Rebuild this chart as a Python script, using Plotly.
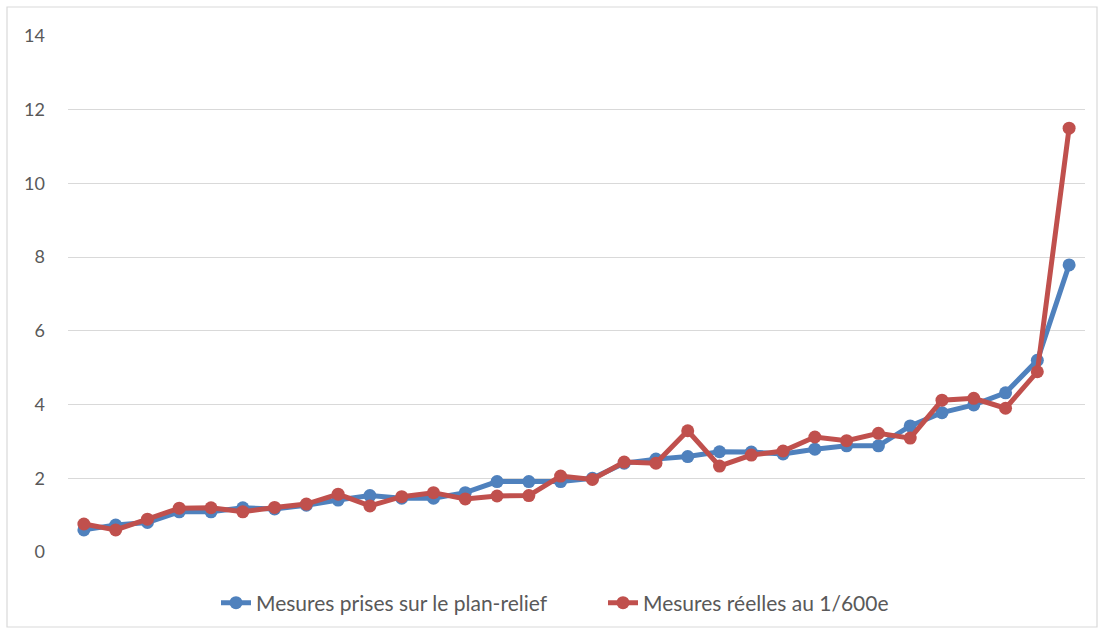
import plotly.graph_objects as go

# Measurement index (32 points) and the two measured series
points = list(range(1, 33))
plan_relief = [0.60, 0.73, 0.80, 1.09, 1.09, 1.20, 1.17, 1.27, 1.41, 1.53, 1.46, 1.46,
               1.61, 1.91, 1.91, 1.91, 2.00, 2.41, 2.52, 2.59, 2.72, 2.71, 2.66, 2.79,
               2.88, 2.88, 3.42, 3.78, 3.99, 4.32, 5.20, 7.79]
reelles = [0.76, 0.60, 0.89, 1.19, 1.20, 1.09, 1.21, 1.30, 1.57, 1.25, 1.50, 1.61,
           1.44, 1.52, 1.53, 2.06, 1.97, 2.44, 2.41, 3.29, 2.33, 2.63, 2.74, 3.12,
           3.02, 3.22, 3.09, 4.12, 4.17, 3.90, 4.89, 11.50]
series_names = ["Mesures prises sur le plan-relief", "Mesures réelles au 1/600e"]
y_ticks = [0, 2, 4, 6, 8, 10, 12, 14]

BLUE = "#4F81BD"
RED = "#C0504D"
W, H = 1103, 634
ML, MR, MT, MB = 68, 18, 36, 10
PW = W - ML - MR
PH = H - MT - MB
Y0_PX = 552  # pixel row of the zero gridline


def py(px):
    """Pixel row -> paper fraction."""
    return (H - MB - px) / PH


def pxx(px):
    """Pixel column -> paper fraction."""
    return (px - ML) / PW


fig = go.Figure()
for name, vals, col in [(series_names[0], plan_relief, BLUE), (series_names[1], reelles, RED)]:
    fig.add_trace(go.Scatter(
        x=points, y=vals, name=name, mode="lines+markers",
        line=dict(color=col, width=5),
        marker=dict(color=col, size=13),
        cliponaxis=False,
    ))

# Light outer frame of the chart
fig.add_shape(type="rect", xref="paper", yref="paper",
              x0=pxx(7), x1=pxx(1097), y0=py(627), y1=py(7),
              line=dict(color="#D9D9D9", width=1.2), fillcolor="rgba(0,0,0,0)", layer="below")

fig.update_layout(
    width=W, height=H,
    margin=dict(l=ML, r=MR, t=MT, b=MB, autoexpand=False),
    paper_bgcolor="white", plot_bgcolor="white",
    font=dict(family="Lato, 'Open Sans', sans-serif", color="#595959", size=18),
    xaxis=dict(range=[0.5, 32.5], showticklabels=False, showgrid=False,
               zeroline=False, showline=False, ticks=""),
    yaxis=dict(domain=[py(Y0_PX), 1], range=[0, 14], tickvals=y_ticks, showgrid=True,
               gridcolor="#D9D9D9", gridwidth=1.3, zeroline=False, showline=False,
               ticks="", ticklabelstandoff=22, tickfont=dict(size=18, color="#595959")),
    legend=dict(orientation="h", xref="container", yref="container",
                x=216 / W, xanchor="left", y=(H - 603) / H, yanchor="middle",
                bgcolor="rgba(0,0,0,0)", font=dict(size=21, color="#595959"),
                itemwidth=30, entrywidthmode="pixels", entrywidth=342),
    showlegend=True,
)

fig.write_html("out.html")
